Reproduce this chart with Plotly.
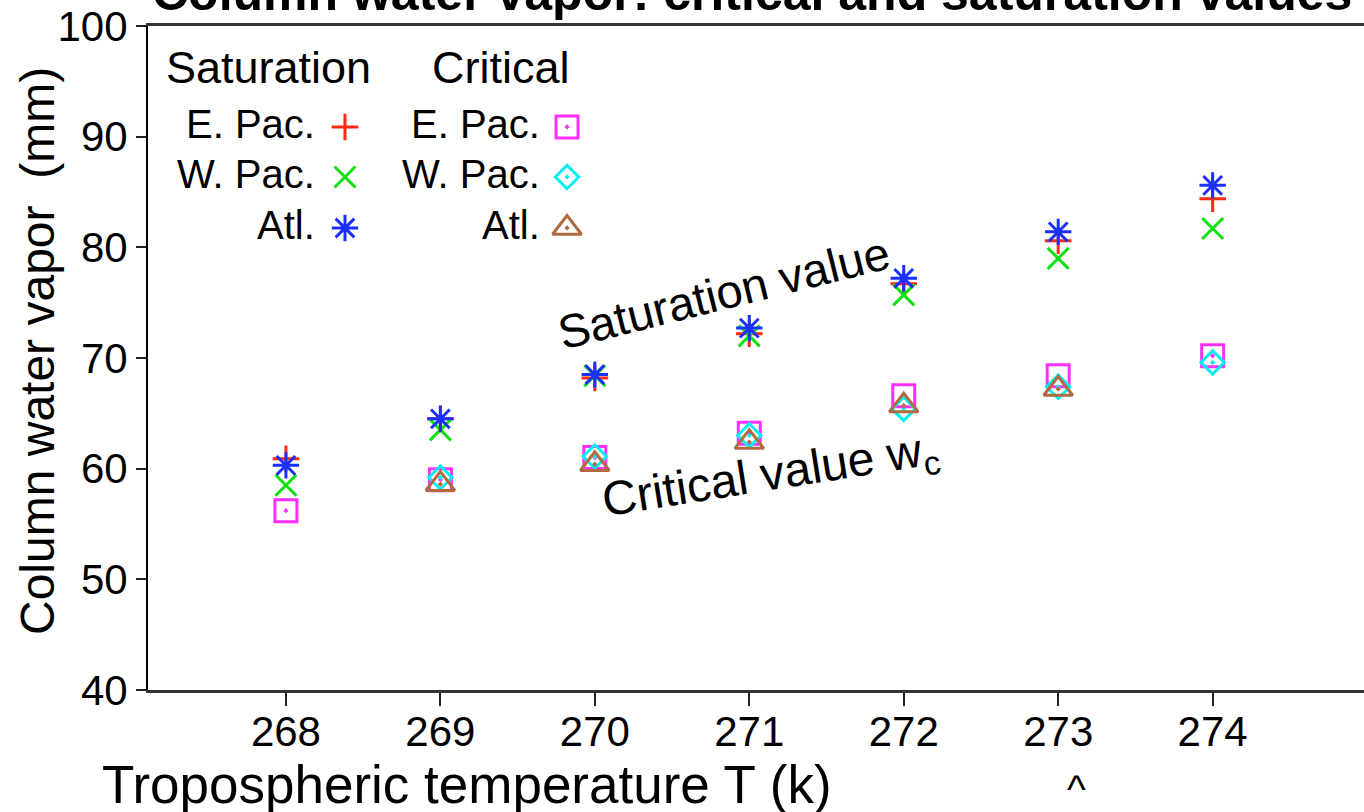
import plotly.graph_objects as go

# Tropospheric temperature (K)
temps = [268, 269, 270, 271, 272, 273, 274]

# Saturation column water vapor (mm)
sat_epac = [60.9, 64.5, 68.2, 72.2, 76.7, 80.6, 84.4]
sat_wpac = [58.5, 63.5, 68.4, 72.0, 75.7, 79.0, 81.7]
sat_atl = [60.3, 64.5, 68.5, 72.7, 77.2, 81.4, 85.6]

# Critical column water vapor (mm)
crit_epac = [56.2, 59.0, 61.0, 63.2, 66.6, 68.4, 70.2]
crit_wpac = [None, 59.2, 61.1, 63.0, 65.4, 67.4, 69.6]
crit_atl = [None, 58.6, 60.4, 62.4, 65.7, 67.2, None]

y_ticks = [40, 50, 60, 70, 80, 90, 100]
region_names = ["E. Pac.", "W. Pac.", "Atl."]

FONT = "Liberation Sans, Arial, Helvetica, sans-serif"

# (values, symbol, color, size) for each series
series = [
    (sat_epac, "cross-thin-open", "#ff2a10", 19),
    (sat_wpac, "x-thin-open", "#10e010", 21),
    (sat_atl, "asterisk-open", "#1a30ff", 22),
    (crit_epac, "square-open-dot", "#ff30ff", 22),
    (crit_wpac, "diamond-open-dot", "#00f0f0", 18),
    (crit_atl, "triangle-up-open-dot", "#b06a40", 25),
]

fig = go.Figure()

for vals, sym, col, sz in series:
    fig.add_trace(go.Scatter(
        x=temps, y=vals, mode="markers",
        marker=dict(symbol=sym, size=sz, color=col,
                    line=dict(color=col, width=3)),
        showlegend=False, hoverinfo="skip", cliponaxis=False,
    ))

# Legend block: two columns (saturation / critical), three rows each
leg_rows_y = [0.848, 0.7726, 0.6958]
leg_sym_x = [0.162, 0.3446]
leg_txt_x = [0.139, 0.324]
for col_i in range(2):
    for row_i in range(3):
        _, sym, col, sz = series[col_i * 3 + row_i]
        fig.add_trace(go.Scatter(
            x=[leg_sym_x[col_i]], y=[leg_rows_y[row_i]], mode="markers",
            xaxis="x2", yaxis="y2",
            marker=dict(symbol=sym, size=sz, color=col,
                        line=dict(color=col, width=3)),
            showlegend=False, hoverinfo="skip",
        ))
        fig.add_annotation(
            text=region_names[row_i], xref="paper", yref="paper",
            x=leg_txt_x[col_i], y=leg_rows_y[row_i] + 0.005,
            xanchor="right", yanchor="middle", showarrow=False,
            font=dict(family=FONT, size=40, color="black"),
        )

fig.add_annotation(text="Saturation", xref="paper", yref="paper",
                   x=0.013, y=0.937, xanchor="left", yanchor="middle",
                   showarrow=False, font=dict(family=FONT, size=45, color="black"))
fig.add_annotation(text="Critical", xref="paper", yref="paper",
                   x=0.232, y=0.937, xanchor="left", yanchor="middle",
                   showarrow=False, font=dict(family=FONT, size=45, color="black"))

# Curve labels
fig.add_annotation(text="Saturation value", xref="paper", yref="paper",
                   x=0.474, y=0.598, textangle=-14, showarrow=False,
                   font=dict(family=FONT, size=47, color="black"))
fig.add_annotation(text="Critical value w<sub>c</sub>", xref="paper", yref="paper",
                   x=0.512, y=0.232, textangle=-9, showarrow=False,
                   font=dict(family=FONT, size=48, color="black"))

# Title (runs off the top edge)
fig.add_annotation(text="<b>Column water vapor: critical and saturation values</b>",
                   xref="paper", yref="paper", x=0.4967, y=1.004,
                   xanchor="center", yanchor="bottom", showarrow=False,
                   font=dict(family=FONT, size=50, color="black"))

# Axis titles
fig.add_annotation(text="Tropospheric temperature T (k)", xref="paper", yref="paper",
                   x=-0.0395, y=-0.143, xanchor="left", yanchor="middle",
                   showarrow=False, font=dict(family=FONT, size=53, color="black"))
fig.add_annotation(text="Column water vapor\u00a0 (mm)", xref="paper", yref="paper",
                   x=-0.0913, y=0.5105, textangle=-90, xanchor="center",
                   yanchor="middle", showarrow=False,
                   font=dict(family=FONT, size=48, color="black"))
fig.add_annotation(text="^", xref="paper", yref="paper",
                   x=0.773, y=-0.185, showarrow=False,
                   font=dict(family=FONT, size=40, color="black"))

fig.update_layout(
    width=1364, height=812,
    margin=dict(l=148, r=0, t=26, b=122),
    paper_bgcolor="white", plot_bgcolor="white",
    xaxis=dict(range=[267.107, 274.98], tickvals=temps,
               ticks="outside", ticklen=13, tickwidth=2, tickcolor="#222",
               ticklabelstandoff=-10,
               showline=True, linewidth=3, linecolor="#333", mirror=True,
               showgrid=False, zeroline=False,
               tickfont=dict(family=FONT, size=42, color="black")),
    yaxis=dict(range=[40, 100], tickvals=y_ticks,
               ticks="outside", ticklen=10, tickwidth=2, tickcolor="#222",
               showline=True, linewidth=2, linecolor="black",
               showgrid=False, zeroline=False,
               tickfont=dict(family=FONT, size=42, color="black")),
    xaxis2=dict(range=[0, 1], overlaying="x", visible=False, domain=[0, 1]),
    yaxis2=dict(range=[0, 1], overlaying="y", visible=False, domain=[0, 1]),
    showlegend=False,
)

fig.write_html("out.html")
